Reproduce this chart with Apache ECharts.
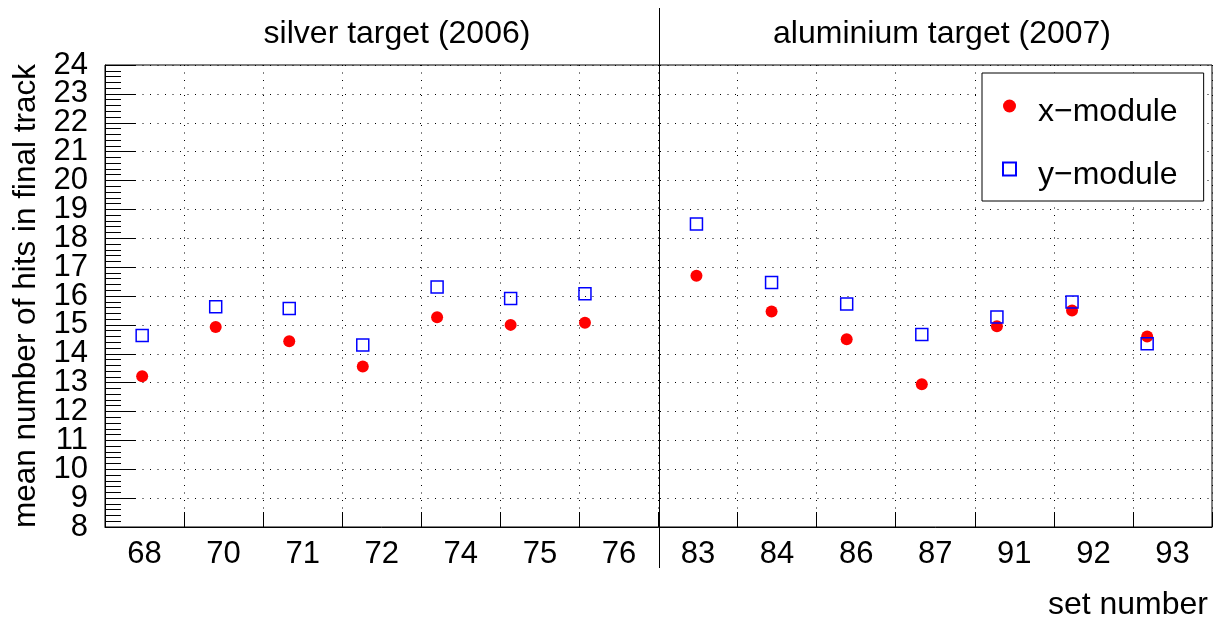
<!DOCTYPE html>
<html>
<head>
<meta charset="utf-8">
<script src="https://cdn.jsdelivr.net/npm/echarts@6/dist/echarts.min.js"></script>
<style>
  html, body { margin: 0; padding: 0; background: #fff; }
  #chart { width: 1222px; height: 621px; }
</style>
</head>
<body>
<div id="chart"></div>
<script>
// Run set numbers shown along the bottom axis
const setNumbers = ['68', '70', '71', '72', '74', '75', '76', '83', '84', '86', '87', '91', '92', '93'];
// Where each set's markers sit along the axis (in set-slot units, 0..14)
const setPositions = [0.47, 1.40, 2.33, 3.26, 4.20, 5.13, 6.07, 7.48, 8.43, 9.38, 10.33, 11.28, 12.23, 13.18];
// Mean number of hits in the final track
const xModuleHits = [13.22, 14.93, 14.43, 13.56, 15.26, 15.00, 15.07, 16.70, 15.46, 14.50, 12.94, 14.95, 15.50, 14.60];
const yModuleHits = [14.63, 15.63, 15.57, 14.30, 16.31, 15.91, 16.08, 18.49, 16.47, 15.72, 14.67, 15.27, 15.79, 14.35];
// Target periods: name and index of the first set belonging to it
const periods = [
  { name: 'silver target (2006)', first: 0 },
  { name: 'aluminium target (2007)', first: 7 }
];
const yMin = 8, yMax = 24, yStep = 1;

const FONT = '"Liberation Sans", Arial, Helvetica, sans-serif';
const chart = echarts.init(document.getElementById('chart'), null, { renderer: 'canvas' });

const dotted = { color: '#000', width: 1, type: [1, 6.5] };
const titleText = { fontFamily: FONT, fontSize: 32, fontWeight: 'normal', color: '#000' };
const yLabelText = { fontFamily: FONT, fontSize: 31, color: '#000', margin: 17 };
const isEnd = v => v === yMin || v === yMax;

const option = {
  animation: false,
  backgroundColor: '#fff',
  textStyle: { fontFamily: FONT, color: '#000' },
  grid: {
    left: 105, top: 65, width: 1107, height: 464,
    show: true, borderColor: '#000', borderWidth: 1, backgroundColor: 'transparent'
  },
  title: [
    { text: periods[0].name, left: 392, top: 13, textAlign: 'center', textStyle: titleText },
    { text: periods[1].name, left: 937, top: 13, textAlign: 'center', textStyle: titleText }
  ],
  legend: {
    left: 982, top: 73,
    orient: 'vertical',
    padding: [11, 26, 10, 20],
    itemGap: 19,
    itemWidth: 13, itemHeight: 13,
    backgroundColor: '#fff',
    borderColor: '#000', borderWidth: 1, borderRadius: 0,
    selectedMode: false,
    textStyle: {
      fontFamily: FONT, fontSize: 32, color: '#000', lineHeight: 36,
      rich: { t: { fontFamily: FONT, fontSize: 32, color: '#000', lineHeight: 36, padding: [12, 0, 0, 17] } }
    },
    formatter: name => '{t|' + name + '}',
    data: ['x\u2212module', 'y\u2212module']
  },
  xAxis: [
    {
      type: 'category',
      data: setNumbers,
      boundaryGap: true,
      name: 'set number',
      nameLocation: 'end',
      nameGap: -4,
      nameTextStyle: { fontFamily: FONT, fontSize: 32, color: '#000', align: 'right', verticalAlign: 'top', padding: [62, 0, 0, 0] },
      axisLine: { lineStyle: { color: '#000', width: 1 } },
      axisTick: { show: true, inside: true, length: 15, lineStyle: { color: '#000' } },
      axisLabel: { fontFamily: FONT, fontSize: 31, color: '#000', margin: 12, interval: 0 },
      splitLine: { show: true, lineStyle: dotted }
    },
    {
      type: 'value', min: 0, max: setNumbers.length, show: false,
      splitLine: { show: false }
    }
  ],
  yAxis: [
    {
      // main axis: line, ticks, grid and the inner labels
      type: 'value',
      position: 'left',
      min: yMin, max: yMax, interval: yStep,
      name: 'mean number of hits in final track',
      nameLocation: 'middle',
      nameRotate: 90,
      nameGap: 58,
      nameTextStyle: { fontFamily: FONT, fontSize: 31.5, color: '#000' },
      axisLine: { show: true, lineStyle: { color: '#000', width: 1 } },
      axisTick: { show: true, inside: true, length: 31, lineStyle: { color: '#000' } },
      minorTick: { show: true, splitNumber: 5, length: 16, lineStyle: { color: '#000' } },
      axisLabel: Object.assign({ formatter: v => (isEnd(v) ? '' : String(v)) }, yLabelText),
      splitLine: { show: true, lineStyle: dotted }
    },
    {
      // companion axis carrying only the end labels (8 and 24)
      type: 'value',
      position: 'left',
      offset: 0,
      min: yMin, max: yMax, interval: yStep,
      axisLine: { show: false },
      axisTick: { show: false },
      minorTick: { show: false },
      splitLine: { show: false },
      axisLabel: Object.assign({
        showMinLabel: true, showMaxLabel: true,
        formatter: v => (isEnd(v) ? String(v) : '')
      }, yLabelText)
    }
  ],
  series: [
    {
      name: 'x\u2212module',
      type: 'scatter',
      xAxisIndex: 1,
      yAxisIndex: 0,
      symbol: 'circle',
      symbolSize: 12,
      itemStyle: { color: '#ff0000', opacity: 1 },
      emphasis: { disabled: true },
      z: 3,
      data: xModuleHits.map((v, i) => [setPositions[i], v])
    },
    {
      name: 'y\u2212module',
      type: 'scatter',
      xAxisIndex: 1,
      yAxisIndex: 0,
      symbol: 'rect',
      symbolSize: 12,
      itemStyle: { color: 'rgba(0,0,0,0)', borderColor: '#0000ff', borderWidth: 1.5, opacity: 1 },
      emphasis: { disabled: true },
      z: 4,
      data: yModuleHits.map((v, i) => [setPositions[i], v])
    }
  ]
};

chart.setOption(option);

// Vertical separator between the two target periods, placed on the set boundary
const sepX = chart.convertToPixel({ xAxisIndex: 1 }, periods[1].first);
chart.setOption({
  graphic: [{
    type: 'line',
    shape: { x1: Math.round(sepX) + 0.5, y1: 8, x2: Math.round(sepX) + 0.5, y2: 568 },
    style: { stroke: '#000', lineWidth: 1 },
    z: 10,
    silent: true
  }]
});
</script>
</body>
</html>
